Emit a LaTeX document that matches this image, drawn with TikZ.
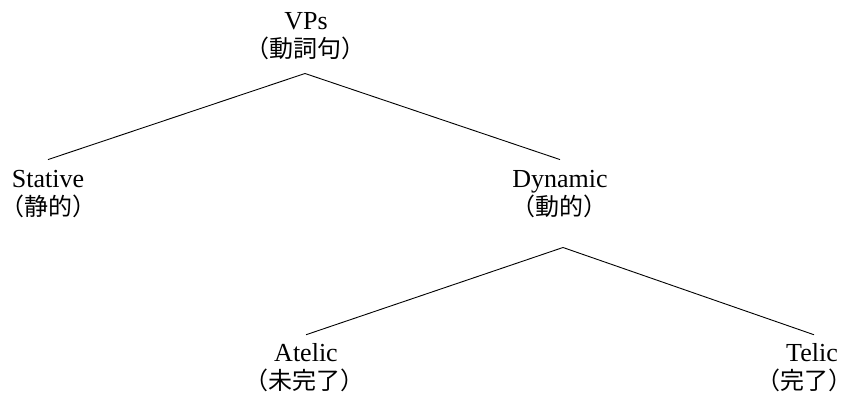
\documentclass[tikz,border=0pt]{standalone}
\usepackage{fontspec}
\setmainfont{Liberation Serif}
\newfontfamily\jp{Noto Sans CJK JP}
\begin{document}
\begin{tikzpicture}[x=1pt,y=1pt,
  en/.style={inner sep=0pt, anchor=base, font=\fontsize{26}{29}\selectfont},
  ja/.style={inner sep=0pt, anchor=base, font=\fontsize{24}{29}\selectfont\jp},
  branch/.style={line width=0.9pt}]
\useasboundingbox (0,0) rectangle (853,398);
% labels: English term above, Japanese gloss below
\node[en] (vps)  at (306,368) {VPs};
\node[ja] (vpsJ) at (305,340) {（動詞句）};
\node[en] (stative)  at (48,210) {Stative};
\node[ja] (stativeJ) at (49,182) {（静的）};
\node[en] (dynamic) at (560,210) {Dynamic};
\node[ja] (dynJ)    at (559,182) {（動的）};
\node[en] (atelic)  at (306,36) {Atelic};
\node[ja] (atelicJ) at (304,8) {（未完了）};
\node[en] (telic)  at (812,36) {Telic};
\node[ja] (telicJ) at (804,8) {（完了）};
% branches
\draw[branch] ([yshift=-13pt]vpsJ.south) -- ([yshift=11pt]stative.north);
\draw[branch] ([yshift=-13pt]vpsJ.south) -- ([yshift=11pt]dynamic.north);
\draw[branch] ([xshift=4pt,yshift=-29pt]dynJ.south) -- ([yshift=9pt]atelic.north);
\draw[branch] ([xshift=4pt,yshift=-29pt]dynJ.south) -- ([xshift=2pt,yshift=9pt]telic.north);
\end{tikzpicture}
\end{document}
